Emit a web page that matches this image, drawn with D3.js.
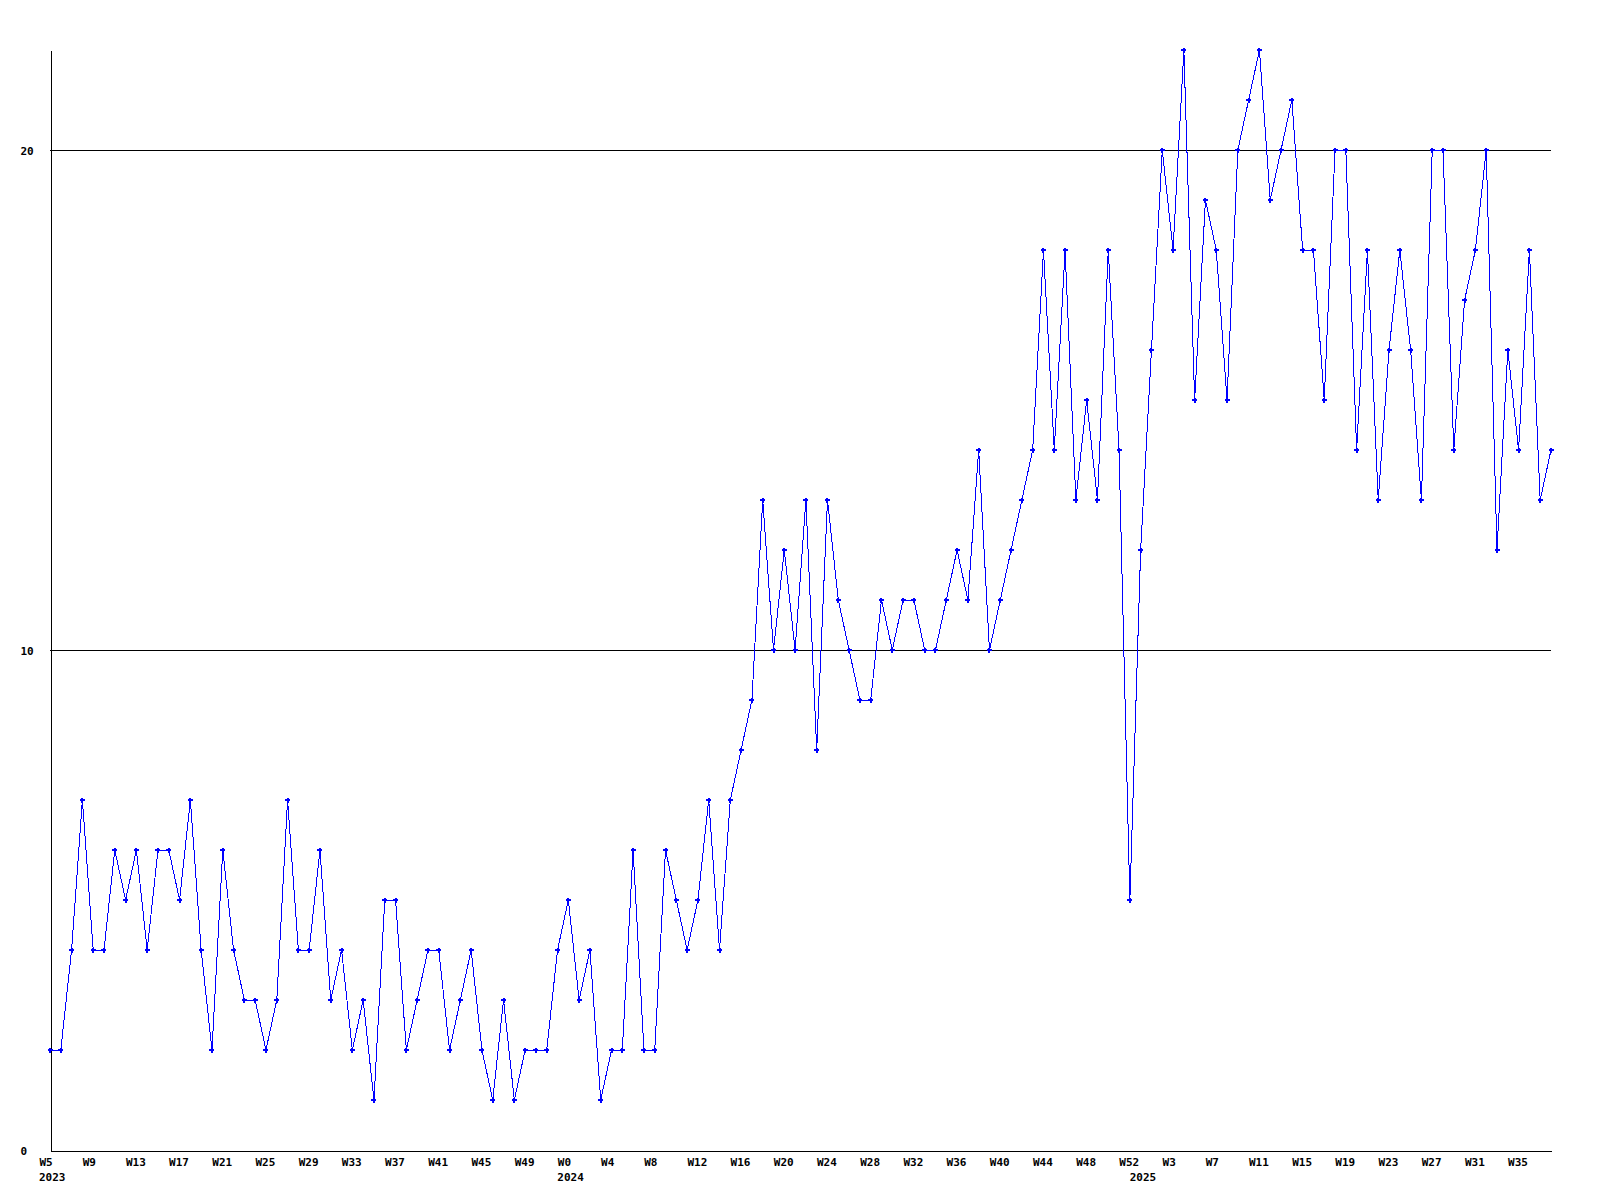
<!DOCTYPE html>
<html>
<head>
<meta charset="utf-8">
<script src="https://cdn.jsdelivr.net/npm/d3@7"></script>
<style>
  body { margin: 0; background: #fff; }
  svg text { font-family: "DejaVu Sans Mono", monospace; font-size: 11px; font-weight: bold; fill: #000; }
</style>
</head>
<body>
<div id="container"></div>
<script>
const W = 1600;
const H = 1200;

// weekly categories per year: first and last week number
const yearNames = ["2023", "2024", "2025"];
const firstWeek = [5, 0, 0];
const lastWeek = [52, 52, 38];

// one value per week
const counts2023 = [2, 2, 4, 7, 4, 4, 6, 5, 6, 4, 6, 6, 5, 7, 4, 2, 6, 4, 3, 3, 2, 3, 7, 4,
  4, 6, 3, 4, 2, 3, 1, 5, 5, 2, 3, 4, 4, 2, 3, 4, 2, 1, 3, 1, 2, 2, 2, 4];
const counts2024 = [5, 3, 4, 1, 2, 2, 6, 2, 2, 6, 5, 4, 5, 7, 4, 7, 8, 9, 13, 10, 12, 10, 13, 8,
  13, 11, 10, 9, 9, 11, 10, 11, 11, 10, 10, 11, 12, 11, 14, 10, 11, 12, 13, 14, 18, 14, 18, 13,
  15, 13, 18, 14, 5];
const counts2025 = [12, 16, 20, 18, 22, 15, 19, 18, 15, 20, 21, 22, 19, 20, 21, 18, 18, 15, 20, 20,
  14, 18, 13, 16, 18, 16, 13, 20, 20, 14, 17, 18, 20, 12, 16, 14, 18, 13, 14];

const yTicks = [0, 10, 20];
const gridLines = [10, 20];
const yMax = 22;
const tickEvery = 4;

const allCounts = [counts2023, counts2024, counts2025];
const data = [];
yearNames.forEach((yr, k) => {
  for (let w = firstWeek[k]; w <= lastWeek[k]; w++) {
    data.push({ year: yr, week: w, value: allCounts[k][w - firstWeek[k]] });
  }
});

const svg = d3.select("#container")
  .append("svg")
  .attr("width", W)
  .attr("height", H)
  .style("shape-rendering", "crispEdges");

const x = d3.scaleLinear().domain([0, data.length - 1]).range([50, 1551]);
const y = d3.scaleLinear().domain([0, yMax]).range([1150, 50]);

// grid lines
svg.selectAll(".grid")
  .data(gridLines)
  .enter()
  .append("line")
  .attr("class", "grid")
  .attr("x1", x(0))
  .attr("x2", x(data.length - 1))
  .attr("y1", d => y(d) + 0.5)
  .attr("y2", d => y(d) + 0.5)
  .attr("stroke", "#000");

// x axis
const tickIdx = d3.range(0, data.length, tickEvery);
const xAxis = svg.append("g")
  .attr("transform", "translate(0,1150.5)")
  .call(d3.axisBottom(x).tickValues(tickIdx).tickSize(0).tickSizeOuter(0)
    .tickFormat(i => "W" + data[i].week));
xAxis.attr("font-family", null).attr("font-size", null);
xAxis.select(".domain").attr("stroke", "#000");
xAxis.selectAll("text")
  .attr("text-anchor", "start")
  .attr("dx", -11)
  .attr("y", 15)
  .attr("dy", 0);

// year labels under first week of each year
const yearStarts = data.map((d, i) => i).filter(i => i === 0 || data[i].year !== data[i - 1].year);
svg.selectAll(".year")
  .data(yearStarts)
  .enter()
  .append("text")
  .attr("class", "year")
  .attr("x", i => x(i) - 11)
  .attr("y", 1181)
  .text(i => data[i].year);

// y axis
const yAxis = svg.append("g")
  .attr("transform", "translate(50.5,0)")
  .call(d3.axisLeft(y).tickValues(yTicks).tickSize(0).tickSizeOuter(0));
yAxis.attr("font-family", null).attr("font-size", null);
yAxis.select(".domain").attr("stroke", "#000");
yAxis.selectAll("text")
  .attr("text-anchor", "start")
  .attr("x", -30)
  .attr("dy", "0.4em");

// line
svg.append("path")
  .datum(data)
  .attr("fill", "none")
  .attr("stroke", "#0000ff")
  .attr("stroke-width", 1)
  .attr("d", d3.line().x((d, i) => x(i)).y(d => y(d.value)));

// point markers
svg.selectAll(".pt")
  .data(data)
  .enter()
  .append("path")
  .attr("class", "pt")
  .attr("transform", (d, i) => `translate(${x(i)},${y(d.value)})`)
  .attr("d", "M-2.5,0H2.5M0,-2.5V2.5")
  .attr("stroke", "#0000ff")
  .attr("stroke-width", 2);
</script>
</body>
</html>
